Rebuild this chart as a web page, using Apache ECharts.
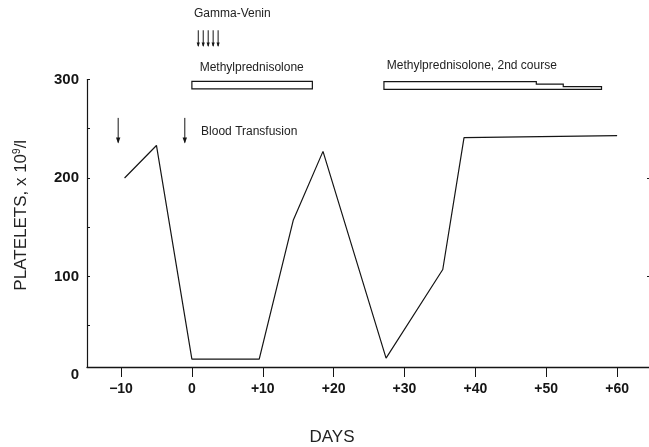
<!DOCTYPE html>
<html>
<head>
<meta charset="utf-8">
<script src="https://cdn.jsdelivr.net/npm/echarts@6/dist/echarts.min.js"></script>
<style>
  html, body { margin: 0; padding: 0; background: #fff; }
  #chart { width: 649px; height: 447px; }
</style>
</head>
<body>
<div id="chart"></div>
<script>
// ---- data ----
const days = [-9.5, -5, 0, 9.5, 14.3, 18.5, 27.4, 35.4, 38.4, 60];
const platelets = [200, 233, 16, 16, 157, 227, 17, 107, 241, 243];

const xTickValues = [-10, 0, 10, 20, 30, 40, 50, 60];
const xTickLabels = ['\u221210', '0', '+10', '+20', '+30', '+40', '+50', '+60'];
const yLabelValues = [100, 200, 300];
const yTickValues = [50, 100, 150, 200, 250, 300];
const yRightTicks = [100, 200];

// annotations (in data units: day, platelet value)
const transfusionDays = [-10.4, -1.0];
const transfusionArrow = [261, 235];
const gammaVeninDays = [0.9, 1.6, 2.3, 3.0, 3.7];
const gammaVeninArrow = [350, 333];
const course1 = [[0, 298], [17, 298], [17, 290.4], [0, 290.4]];
const course2 = [[27.1, 297.8], [48.6, 297.8], [48.6, 295.4], [52.4, 295.4], [52.4, 292.7],
                 [57.8, 292.7], [57.8, 290], [27.1, 290]];
const annotationTexts = ['Gamma-Venin', 'Methylprednisolone', 'Methylprednisolone, 2nd course', 'Blood Transfusion'];
const annotationDays = [0.3, 1.1, 27.5, 1.3];
const annotationValues = [366.5, 311.7, 313.7, 246.7];

const INK = '#151515';
const FONT = '"Liberation Sans", Arial, sans-serif';

const chart = echarts.init(document.getElementById('chart'), null, { renderer: 'canvas' });

const arrowItems = [];
transfusionDays.forEach(d => arrowItems.push([d, transfusionArrow[0], transfusionArrow[1], 1]));
gammaVeninDays.forEach(d => arrowItems.push([d, gammaVeninArrow[0], gammaVeninArrow[1], 0]));

const courses = [course1, course2];

chart.setOption({
  animation: false,
  backgroundColor: '#ffffff',
  grid: { left: 87, right: 0, top: 79.5, bottom: 80, containLabel: false, outerBoundsMode: 'none' },
  xAxis: {
    type: 'value',
    min: -14.8,
    max: 64.5,
    axisLine: { onZero: false, lineStyle: { color: INK, width: 1.3 } },
    axisTick: { customValues: xTickValues, length: 10, lineStyle: { color: INK, width: 1 } },
    axisLabel: {
      customValues: xTickValues,
      formatter: v => xTickLabels[xTickValues.indexOf(v)],
      fontFamily: FONT, fontWeight: 'bold', fontSize: 14, color: INK, margin: 15
    },
    splitLine: { show: false },
    name: 'DAYS',
    nameLocation: 'middle',
    nameGap: 62,
    nameTextStyle: { fontFamily: FONT, fontSize: 17, color: '#222', padding: [0, 72, 0, 0] }
  },
  yAxis: [{
    type: 'value',
    min: 8,
    max: 300,
    axisLine: { onZero: false, lineStyle: { color: INK, width: 1.2 } },
    axisTick: { customValues: yTickValues, inside: true, length: 3, lineStyle: { color: INK } },
    axisLabel: {
      customValues: yLabelValues,
      fontFamily: FONT, fontWeight: 'bold', fontSize: 15, color: INK, margin: 8
    },
    splitLine: { show: false },
    name: 'PLATELETS, x 10{sup|9}/l',
    nameLocation: 'middle',
    nameGap: 57,
    nameTextStyle: {
      fontFamily: FONT, fontSize: 17, color: '#222', padding: [0, 0, 0, 16],
      rich: { sup: { fontFamily: FONT, fontSize: 10, color: '#222', verticalAlign: 'top', padding: [0, 0, 8, 0] } }
    }
  }, {
    type: 'value',
    position: 'right',
    min: 8,
    max: 300,
    axisLine: { show: false, onZero: false },
    axisTick: { show: true, customValues: yRightTicks, inside: true, length: 2, lineStyle: { color: INK } },
    axisLabel: { show: false },
    splitLine: { show: false }
  }],
  series: [
    {
      type: 'line',
      data: days.map((d, i) => [d, platelets[i]]),
      symbol: 'none',
      lineStyle: { color: INK, width: 1.2 },
      silent: true
    },
    {
      type: 'custom',
      clip: false,
      silent: true,
      data: arrowItems,
      encode: { x: 0, y: 1 },
      renderItem: (params, api) => {
        const top = api.coord([api.value(0), api.value(1)]);
        const bot = api.coord([api.value(0), api.value(2)]);
        const big = api.value(3) === 1;
        const hw = big ? 2.2 : 1.6, hl = big ? 6 : 4.5;
        return {
          type: 'group',
          children: [
            { type: 'line', shape: { x1: top[0], y1: top[1], x2: bot[0], y2: bot[1] - 1 },
              style: { stroke: INK, lineWidth: 1 } },
            { type: 'polygon', shape: { points: [[bot[0] - hw, bot[1] - hl], [bot[0] + hw, bot[1] - hl], [bot[0], bot[1]]] },
              style: { fill: INK } }
          ]
        };
      }
    },
    {
      type: 'custom',
      clip: false,
      silent: true,
      data: courses.map(c => c[0]),
      encode: { x: 0, y: 1 },
      renderItem: (params, api) => {
        const pts = courses[params.dataIndex].map(p => api.coord(p));
        return { type: 'polygon', shape: { points: pts }, style: { fill: '#fff', stroke: INK, lineWidth: 1.2 } };
      }
    },
    {
      type: 'custom',
      clip: false,
      silent: true,
      data: annotationTexts.map((t, i) => [annotationDays[i], annotationValues[i]]),
      encode: { x: 0, y: 1 },
      renderItem: (params, api) => {
        const p = api.coord([api.value(0), api.value(1)]);
        return {
          type: 'text', x: p[0], y: p[1],
          style: { text: annotationTexts[params.dataIndex], fill: '#222', fontFamily: FONT, fontSize: 12,
                   align: 'left', verticalAlign: 'middle' }
        };
      }
    },
    {
      type: 'custom',
      clip: false,
      silent: true,
      data: [[-14.8, 0]],
      encode: { x: 0, y: 1 },
      renderItem: (params, api) => {
        const p = api.coord([api.value(0), api.value(1)]);
        return {
          type: 'text', x: p[0] - 8, y: p[1],
          style: { text: '0', fill: INK, fontFamily: FONT, fontSize: 15, fontWeight: 'bold',
                   align: 'right', verticalAlign: 'middle' }
        };
      }
    }
  ]
});
</script>
</body>
</html>
